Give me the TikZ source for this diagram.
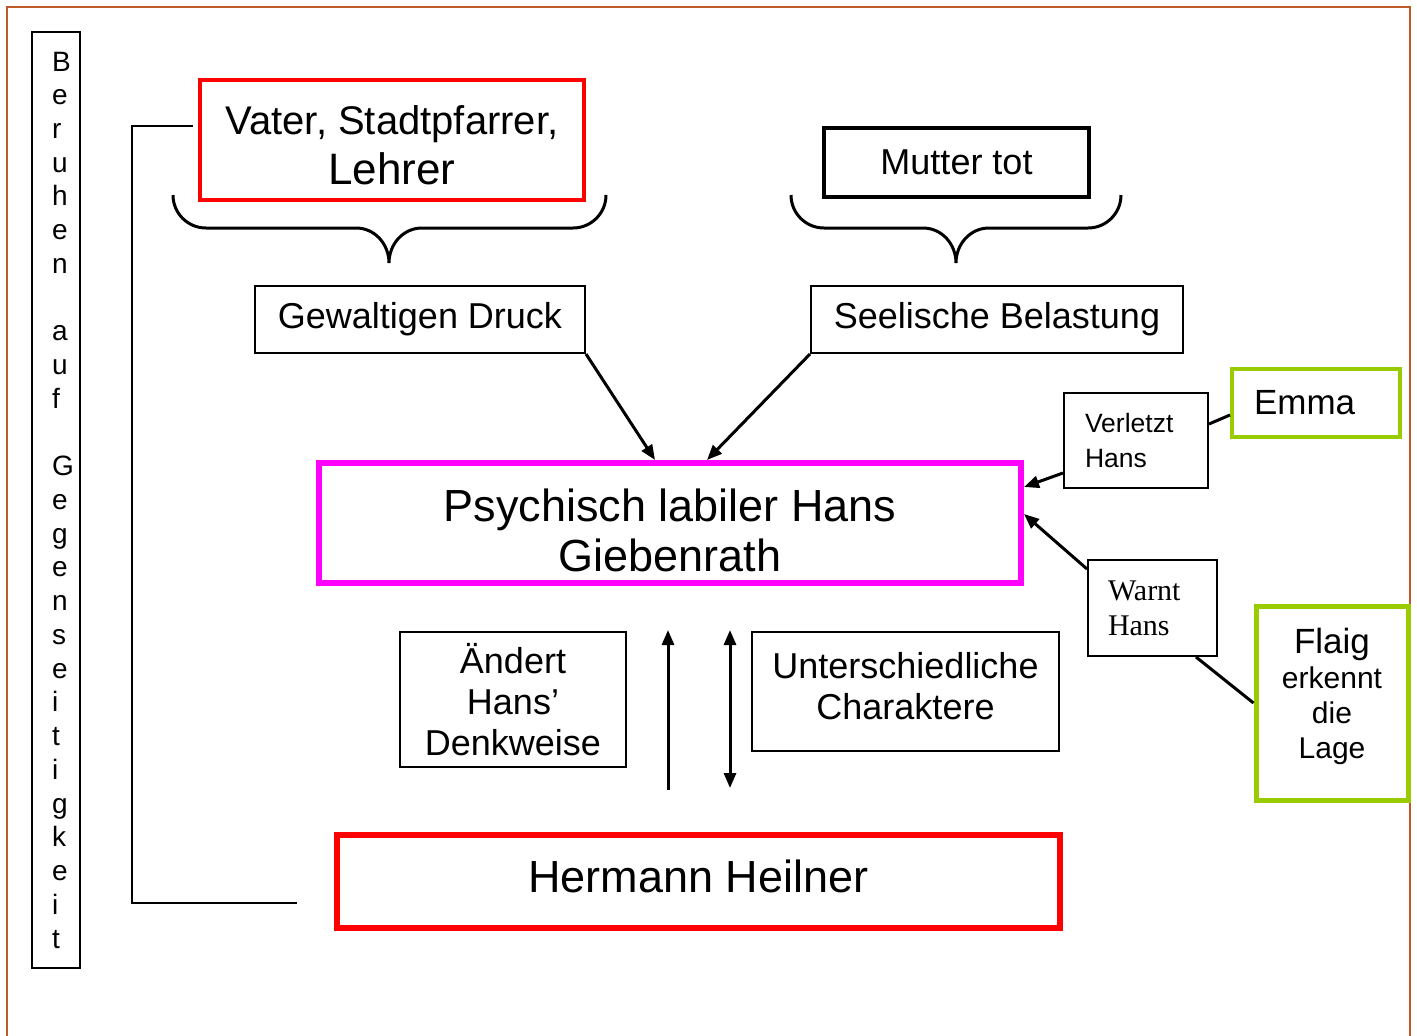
\documentclass[tikz,border=0pt]{standalone}
\usepackage{fontspec}
\setmainfont{Liberation Sans}
\newfontfamily\timesfont{Liberation Serif}
\usetikzlibrary{arrows.meta}
\definecolor{framebrown}{RGB}{190,90,40}
\definecolor{limegreen}{RGB}{153,204,0}
\definecolor{hotmagenta}{RGB}{255,0,255}

\begin{document}
\begin{tikzpicture}[x=1pt, y=-1pt, >={Triangle[length=15pt,width=12pt]},
    box/.style={draw, line width=2pt, inner sep=0pt, align=center, font=\fontsize{36}{41}\selectfont},
    redbox/.style={box, draw=red, line width=4pt},
    greenbox/.style={box, draw=limegreen, line width=4pt},
    bracket/.style={line width=3pt},
    arr/.style={->, line width=3pt}]
    \clip (0,0) rectangle (1417,1036);
    % Frame
    \draw[framebrown, line width=2pt] (7,1050) -- (7,7) -- (1410,7) -- (1410,1050);

    % Define vertices
    \node[box, align=left, text width=8pt] (vert) at (56,500) [minimum width=48, minimum height=936, font=\fontsize{28}{33.73}\selectfont]
        {B\\e\\r\\u\\h\\e\\n\\\mbox{}\\a\\u\\f\\\mbox{}\\G\\e\\g\\e\\n\\s\\e\\i\\t\\i\\g\\k\\e\\i\\t};
    \node[redbox] (vater) at (392,140) [minimum width=384, minimum height=120, font=\fontsize{40}{50}\selectfont]
        {\rule{0pt}{39pt}Vater, Stadtpfarrer,\\{\fontsize{44}{50}\selectfont Lehrer}};
    \node[box, line width=4pt] (mutter) at (956.5,162.5) [minimum width=265, minimum height=69] {Mutter tot};
    \node[box] (druck) at (420,319.5) [minimum width=330, minimum height=67] {Gewaltigen Druck};
    \node[box] (belastung) at (997,319.5) [minimum width=372, minimum height=67] {Seelische Belastung};
    \node[box, draw=hotmagenta, line width=6pt] (hans) at (670,523) [minimum width=702, minimum height=120,
        font=\fontsize{45}{50}\selectfont] {\rule{0pt}{47pt}Psychisch labiler Hans\\Giebenrath};
    \node[box, align=left] (verletzt) at (1136,440.5) [minimum width=144, minimum height=95, text width=102,
        font=\fontsize{26.5}{35}\selectfont] {Verletzt\\Hans};
    \node[greenbox, align=left] (emma) at (1316,403) [minimum width=168, minimum height=68, text width=124,
        font=\fontsize{35}{41}\selectfont] {Emma};
    \node[box, align=left] (warnt) at (1152.5,608) [minimum width=129, minimum height=96, text width=89,
        font=\timesfont\fontsize{30}{35}\selectfont] {Warnt\\Hans};
    \node[greenbox, line width=5pt] (flaig) at (1332,703) [minimum width=152, minimum height=194,
        font=\fontsize{30}{35}\selectfont] {{\fontsize{35}{39}\selectfont Flaig}\\erkennt\\die\\Lage\rule[-20pt]{0pt}{20pt}};
    \node[box] (aendert) at (513,699.5) [minimum width=226, minimum height=135] {Ändert\\Hans’\\Denkweise};
    \node[box] (unter) at (905.5,691.5) [minimum width=307, minimum height=119]
        {Unterschiedliche\\Charaktere\rule[-12pt]{0pt}{12pt}};
    \node[redbox, line width=6pt] (hermann) at (698.5,881.5) [minimum width=723, minimum height=93,
        font=\fontsize{45}{50}\selectfont] {Hermann Heilner\rule[-10pt]{0pt}{10pt}};
    \coordinate (b1) at (193,126);
    \coordinate (b2) at (297,903);
    \coordinate (u1) at (668,790);
    \coordinate (u2) at (668,630);
    \coordinate (d1) at (730,630);
    \coordinate (d2) at (730,788);

    % Draw braces
    \draw[bracket] (173,195) to[out=-90,in=180] (206,228) -- (356,228) to[out=0,in=90] (389,263)
        to[out=90,in=180] (422,228) -- (573,228) to[out=0,in=-90] (606,195); % under vater
    \draw[bracket] (791,195) to[out=-90,in=180] (824,228) -- (923,228) to[out=0,in=90] (956,263)
        to[out=90,in=180] (989,228) -- (1088,228) to[out=0,in=-90] (1121,195); % under mutter

    % Draw edges
    \draw[line width=1.5pt] (b1) -- (132,126) -- (132,903) -- (b2); % vater - hermann
    \draw[arr] (druck.south east) -- ([xshift=-15pt]hans.north); % druck -> hans
    \draw[arr] (belastung.south west) -- ([xshift=37pt]hans.north); % belastung -> hans
    \draw[arr] ([yshift=16pt]verletzt.south west) -- ([yshift=36pt]hans.east); % verletzt -> hans
    \draw[line width=3pt] ([yshift=16.5pt]verletzt.east) -- ([yshift=-12pt]emma.west); % emma - verletzt
    \draw[arr] ([yshift=-10pt]warnt.north west) -- ([yshift=9pt]hans.east); % warnt -> hans
    \draw[line width=3pt] ([xshift=43.5pt]warnt.south) -- (flaig.west); % flaig - warnt
    \draw[arr] (u1) -- (u2); % hermann -> hans
    \draw[arr, <->] (d1) -- (d2); % hans <-> hermann
\end{tikzpicture}
\end{document}
